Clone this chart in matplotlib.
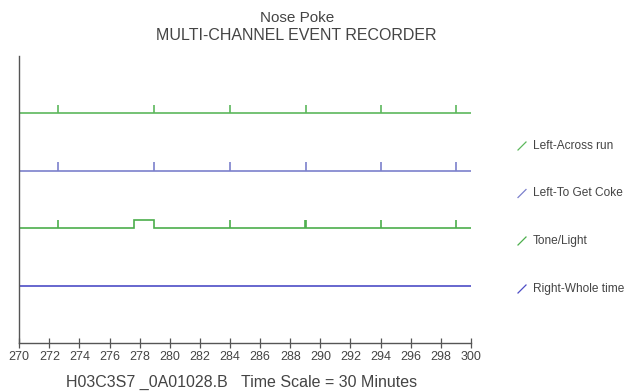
import matplotlib
matplotlib.use('Agg')
import matplotlib.pyplot as plt
from matplotlib.lines import Line2D

plt.rcParams['font.family'] = ['Liberation Sans', 'DejaVu Sans']

# Channels, top to bottom
channel_names = ['Left-Across run', 'Left-To Get Coke', 'Tone/Light', 'Right-Whole time']
channel_colors = ['#5cb85c', '#7b80cc', '#4cae4c', '#4d4dc6']
channel_levels = [4, 3, 2, 1]

# Event times (minutes) for each channel
left_across_events = [272.6, 278.95, 284.0, 289.05, 294.0, 299.0]
left_coke_events = [272.6, 278.95, 284.0, 289.05, 294.0, 299.0]
tone_events = [272.6, 284.0, 288.97, 289.05, 294.0, 299.0]
right_events = []
channel_events = [left_across_events, left_coke_events, tone_events, right_events]

# Sustained on/off periods (start, end)
tone_periods = [(277.63, 278.95)]
channel_periods = [[], [], tone_periods, []]

x_start, x_end = 270, 300
x_ticks = list(range(270, 301, 2))
pulse_h = 0.15

fig = plt.figure(figsize=(6.26, 3.91), dpi=100, facecolor='white')
ax = fig.add_axes([0.0308, 0.1215, 0.7214, 0.7355])

for events, periods, level, color in zip(channel_events, channel_periods,
                                         channel_levels, channel_colors):
    xs = [x_start]
    ys = [level]
    for a, b in periods:
        xs += [a, a, b, b]
        ys += [level, level + pulse_h, level + pulse_h, level]
    xs.append(x_end)
    ys.append(level)
    ax.plot(xs, ys, color=color, lw=1.2, solid_joinstyle='miter')
    if events:
        ax.vlines(events, level, level + pulse_h, color=color, lw=1.2)

ax.set_xlim(x_start, x_end)
ax.set_ylim(0, 5)
ax.set_xticks(x_ticks)
ax.set_xticklabels([str(t) for t in x_ticks])
ax.set_yticks([])
ax.tick_params(axis='x', direction='inout', length=7, width=0.9,
               color='#555555', labelsize=9, labelcolor='#444444', pad=2)
for s in ['top', 'right']:
    ax.spines[s].set_visible(False)
for s in ['left', 'bottom']:
    ax.spines[s].set_color('#555555')
    ax.spines[s].set_linewidth(1.0)

# Titles
fig.text(0.474, 1 - 18 / 391, 'Nose Poke', ha='center', va='center',
         fontsize=11, color='#444444')
fig.text(0.474, 1 - 35 / 391, 'MULTI-CHANNEL EVENT RECORDER', ha='center',
         va='center', fontsize=11.5, color='#444444')
fig.text(242 / 626, 1 - 382 / 391,
         'H03C3S7 _0A01028.B   Time Scale = 30 Minutes',
         ha='center', va='center', fontsize=11.5, color='#444444')

# Channel key on the right
key_y = [146, 193.5, 241, 289]
for name, color, yp in zip(channel_names, channel_colors, key_y):
    yf = 1 - yp / 391
    fig.add_artist(Line2D([518 / 626, 526 / 626], [yf - 4 / 391, yf + 4 / 391],
                          transform=fig.transFigure, color=color, lw=0.9))
    fig.text(533 / 626, yf, name, ha='left', va='center', fontsize=8.6,
             color='#444444')

fig.savefig('out.png', dpi=100, facecolor='white')
plt.close(fig)
